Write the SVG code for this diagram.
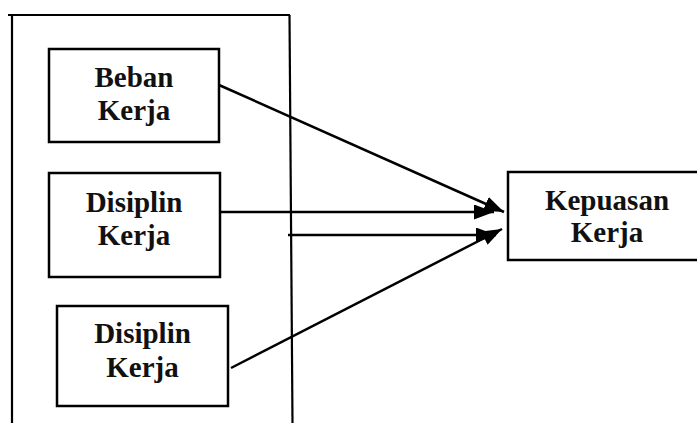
<svg xmlns="http://www.w3.org/2000/svg" width="697" height="423" viewBox="0 0 697 423">
<defs>
<style>
.box{fill:#fff;stroke:#000;stroke-width:2.5}
.frame{fill:none;stroke:#000;stroke-width:2.2}
.lbl{font-family:"Liberation Serif","Times New Roman",serif;font-weight:bold;font-size:29px;fill:#111;text-anchor:middle}
.conn{stroke:#000;stroke-width:2.5;fill:none}
</style>
<marker id="ah" viewBox="0 0 20 15" refX="20" refY="7.5" markerWidth="20" markerHeight="15" markerUnits="userSpaceOnUse" orient="auto">
<path d="M0,0 L20,7.5 L0,15 Z" fill="#000"/>
</marker>
</defs>
<rect width="697" height="423" fill="#fff"/>
<g id="frame">
<line class="frame" x1="8" y1="15" x2="290" y2="15"/>
<line class="frame" x1="12" y1="15" x2="12" y2="423"/>
<line class="frame" x1="289.5" y1="15" x2="292.5" y2="423"/>
</g>
<g id="connectors">
<line class="conn" x1="219" y1="85" x2="504" y2="212" marker-end="url(#ah)"/>
<line class="conn" x1="220" y1="212" x2="494" y2="212" marker-end="url(#ah)"/>
<line class="conn" x1="288" y1="235" x2="496" y2="235" marker-end="url(#ah)"/>
<line class="conn" x1="231" y1="368" x2="502" y2="229" marker-end="url(#ah)"/>
</g>
<g id="beban">
<rect class="box" x="49" y="49" width="170" height="93"/>
<text class="lbl" x="134" y="87">Beban</text>
<text class="lbl" x="134" y="120">Kerja</text>
</g>
<g id="disiplin1">
<rect class="box" x="49" y="173" width="171" height="104"/>
<text class="lbl" x="134" y="212">Disiplin</text>
<text class="lbl" x="134" y="245">Kerja</text>
</g>
<g id="disiplin2">
<rect class="box" x="57" y="306" width="171" height="100"/>
<text class="lbl" x="142.5" y="343">Disiplin</text>
<text class="lbl" x="142.5" y="377">Kerja</text>
</g>
<g id="kepuasan">
<rect class="box" x="508" y="172" width="200" height="88"/>
<text class="lbl" x="607" y="210">Kepuasan</text>
<text class="lbl" x="607" y="242">Kerja</text>
</g>
</svg>
